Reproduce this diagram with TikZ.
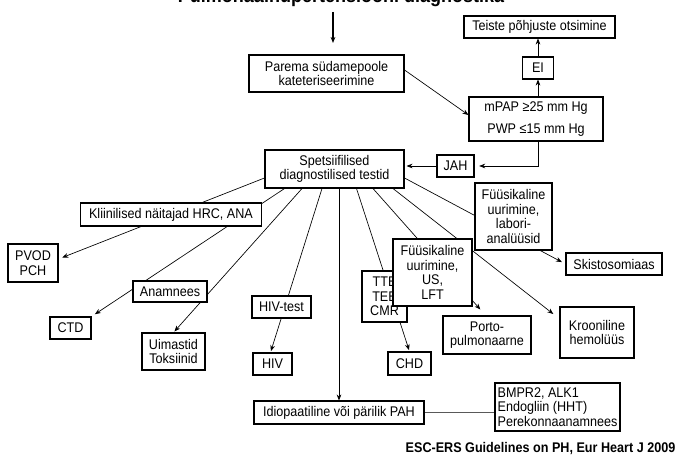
\documentclass[tikz,border=0pt]{standalone}
\usepackage{fontspec}
\setmainfont{Liberation Sans}[FakeStretch=0.9]
\usetikzlibrary{arrows.meta,calc,backgrounds}
\tikzset{
  box/.style={draw, fill=white, line width=0.8pt, align=center, inner sep=0pt,
    font=\fontsize{10.5}{10.9}\selectfont},
  sz/.style 2 args={minimum width=#1*0.75pt, minimum height=#2*0.75pt},
  arr/.style={-{Stealth[length=4.5pt,width=3.5pt]}, line width=0.5pt},
}
\begin{document}
\begin{tikzpicture}[x=0.75pt,y=-0.75pt]
\useasboundingbox (0,0) rectangle (682,460);
% pealkiri, ylevalt poolest saati ara loigatud
\node[anchor=base, font=\bfseries\fontsize{15}{17}\selectfont] (title) at (341,3) {Pulmonaalhüpertensiooni diagnostika};
\coordinate (t0) at (333,12);
\coordinate (t1) at (333,43);
% ylemine osa
\node[box,sz={155}{37}] (parema) at (326.5,73.5) {Parema südamepoole\\kateteriseerimine};
\node[box,sz={151}{22}] (teiste) at (539.5,27) {Teiste põhjuste otsimine};
\node[box,sz={31}{22}] (ei) at (538,68) {EI};
\node[box,sz={134}{44}] (mpap) at (536,119) {mPAP ≥25 mm Hg\\[6pt]PWP ≤15 mm Hg};
\node[box,sz={37}{22}] (jah) at (455.5,166) {JAH};
\node[box,sz={139}{38}] (spets) at (334.5,169) {Spetsiifilised\\diagnostilised testid};
% vasak pool
\node[box,sz={181}{23}] (kliin) at (171,214.5) {Kliinilised näitajad HRC, ANA};
\node[box,sz={50}{38}] (pvod) at (33,263) {PVOD\\PCH};
\node[box,sz={74}{21}] (anam) at (170,291.5) {Anamnees};
\node[box,sz={41}{22}] (ctd) at (70.5,328) {CTD};
\node[box,sz={63}{37}] (uimast) at (173.5,351.5) {Uimastid\\Toksiinid};
\node[box,sz={59}{22}] (hivtest) at (281.5,307) {HIV-test};
\node[box,sz={39}{22}] (hiv) at (272.5,364) {HIV};
% parem pool
\node[box,sz={45}{51}] (tte) at (384.5,296.5) {TTE\\TEE\\CMR};
\node[box,sz={79}{67}] (fyysus) at (432.5,272.5) {Füüsikaline\\uurimine,\\US,\\LFT};
\node[box,sz={88}{38}] (porto) at (487,335) {Porto-\\pulmonaarne};
\node[box,sz={43}{23}] (chd) at (409.5,363.5) {CHD};
\node[box,sz={77}{67}] (fyyslab) at (513.5,216.5) {Füüsikaline\\uurimine,\\labori-\\analüüsid};
\node[box,sz={96}{22}] (skisto) at (614,264) {Skistosomiaas};
\node[box,sz={74}{51}] (kroon) at (597,332.5) {Krooniline\\hemolüüs};
% all
\node[box,sz={170}{23}] (idio) at (339,412.5) {Idiopaatiline või pärilik PAH};
\node[box,sz={125}{48},align=left] (bmpr) at (557.5,407) {BMPR2, ALK1\\Endogliin (HHT)\\Perekonnaanamnees};
\node[anchor=east, font=\bfseries\fontsize{10.5}{11}\selectfont] (allikas) at (680,449) {ESC-ERS Guidelines on PH, Eur Heart J 2009};
\begin{scope}[on background layer]
\draw[arr, line width=1.5pt] (t0) -- (t1);
\draw[arr] ($(parema.east)+(0,-3.5)$) -- ($(mpap.west)+(0,-4)$);
\draw[arr] (ei.south |- mpap.north) -- (ei.south);
\draw[arr] (ei.north) -- (ei.north |- teiste.south);
\draw[arr, shorten >=3.5pt] (ei.south |- mpap.south) |- (jah.east);
\draw[arr, shorten >=1.5pt] (jah.west) -- (spets.east |- jah.west);
% harud testidest, kastid katavad jooni
\draw[arr, shorten >=3pt] ($(spets.west)+(0,9)$) -- ($(pvod.east)+(0,-4)$);
\draw[arr, shorten >=3pt] ($(spets.south)+(-50,0)$) -- (ctd.north east);
\draw[arr, shorten >=1pt] ($(spets.south)+(-32.5,0)$) -- (uimast.north);
\draw[arr, shorten >=1pt] ($(spets.south)+(-12.5,0)$) -- ($(hiv.north)+(-2,0)$);
\draw[arr] (idio.north |- spets.south) -- (idio.north);
\draw[arr, shorten >=1pt] ($(spets.south)+(22,0)$) -- (chd.north);
\draw[arr, shorten >=3pt] ($(spets.south)+(38.5,0)$) -- ($(porto.north)+(-4,-3)$);
\draw[arr, shorten >=3pt] ($(spets.south)+(58.5,0)$) -- ($(kroon.north west)+(-3,10)$);
\draw[arr, shorten >=3pt] ($(spets.east)+(0,9)$) -- (skisto.west);
\draw[line width=1.2pt, gray!70!black] (idio.east) -- (idio.east -| bmpr.west);
\end{scope}
\end{tikzpicture}
\end{document}
